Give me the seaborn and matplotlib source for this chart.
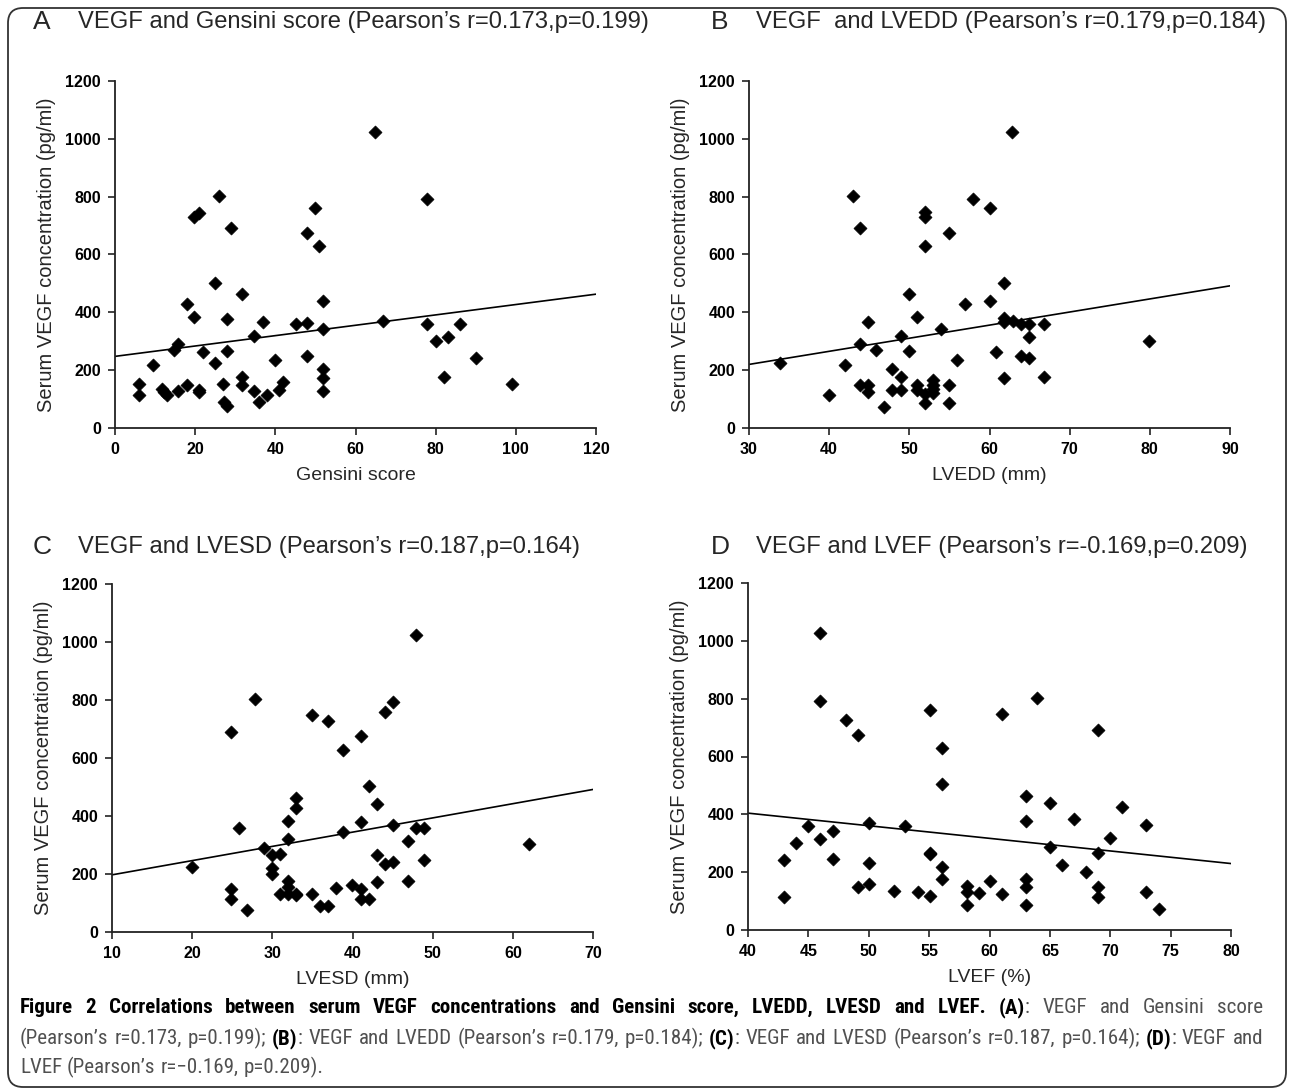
import numpy as np
import pandas as pd
import seaborn as sns
import matplotlib
matplotlib.use("Agg")
import matplotlib.pyplot as plt
from matplotlib import font_manager as fm
from matplotlib.patches import FancyBboxPatch

# ---------------- data ----------------
gensini = [6, 6, 9.6, 11.7, 12.3, 12.9, 15.8, 14.8, 15.8, 17.9, 17.9, 19.8, 19.8, 21, 21, 21,
           21.9, 25, 25, 26, 26.9, 27.1, 27.9, 27.9, 27.9, 28.9, 31.8, 31.8, 31.8, 34.8, 34.8,
           35.9, 36.9, 37.9, 39.8, 40.8, 41.9, 45.2, 47.9, 47.9, 47.9, 50, 50.9, 51.9, 51.9,
           51.9, 51.9, 51.9, 64.8, 66.9, 77.9, 77.9, 80, 83, 86, 82, 90, 99]
vegf_a = [151, 115, 219, 136, 123, 115, 129, 271, 290, 150, 429, 384, 728, 745, 130, 124,
          264, 225, 503, 803, 151, 90, 75, 378, 265, 691, 464, 176, 149, 129, 319,
          89, 365, 115, 234, 130, 159, 359, 363, 676, 248, 760, 628, 440, 343,
          204, 172, 129, 1025, 369, 793, 359, 302, 313, 359, 175, 242, 152]

lvedd = [33.9, 40, 42, 43, 43.9, 43.9, 43.9, 44.9, 44.9, 44.9, 45.9, 46.9, 47.9, 47.9,
         49, 49, 49, 50, 50, 51, 51, 51, 52, 52, 52, 52, 52, 53, 53, 53, 53, 54,
         54.9, 54.9, 54.9, 55.9, 57, 58, 60, 60, 60.8, 61.8, 61.8, 61.8, 61.8, 62.8,
         62.9, 63.9, 63.9, 64.9, 64.9, 64.9, 66.8, 66.8, 79.9]
vegf_b = [225, 115, 219, 803, 691, 150, 290, 365, 150, 124, 271, 73, 204, 130,
          175, 130, 319, 464, 265, 384, 150, 130, 746, 728, 628, 119, 86, 165, 150, 135, 120, 343,
          150, 86, 676, 234, 429, 793, 760, 440, 264, 503, 380, 365, 173, 1025,
          369, 359, 248, 359, 313, 242, 359, 175, 302]

lvesd = [20, 24.9, 24.9, 24.9, 25.9, 26.9, 27.9, 29, 29.9, 30, 30, 31, 31, 32, 32, 32, 32, 32,
         33, 33, 33, 33, 35, 35, 35.9, 36.9, 36.9, 37.9, 38.8, 38.8, 39.9, 41, 41, 41, 41,
         42, 42, 43, 43, 43, 44, 44, 45, 45, 45, 46.9, 46.9, 47.9, 47.9, 48.9, 48.9, 62]
vegf_c = [225, 691, 147, 115, 360, 75, 803, 290, 267, 221, 201, 270, 132, 384, 319, 175, 155, 132,
          463, 429, 132, 127, 747, 132, 89, 728, 89, 152, 628, 346, 161, 676, 380, 150, 115,
          503, 115, 440, 265, 173, 760, 234, 792, 369, 242, 313, 175, 1025, 360, 360, 248, 302]

lvef = [43, 43, 44, 45, 46, 46, 46, 47, 47, 48.1, 49.1, 49.1, 50, 50, 50, 52.1, 53, 54.1,
        55.1, 55.1, 55.1, 55.1, 56.1, 56.1, 56.1, 56.1, 58.1, 58.1, 58.1, 59.1, 60, 61, 61,
        63, 63, 63, 63, 63, 63.9, 65, 65, 66, 67, 68, 69, 69, 69, 69, 70, 71, 73, 73, 74]
vegf_d = [242, 115, 300, 360, 1027, 793, 314, 343, 247, 727, 675, 150, 369, 233, 159, 136, 360, 131,
          761, 268, 263, 118, 629, 504, 219, 175, 152, 133, 87, 129, 171, 125, 747,
          462, 378, 175, 150, 87, 802, 438, 288, 224, 383, 202, 692, 265, 148, 115, 317, 427, 363, 131, 72]

letters = ["A", "B", "C", "D"]
titles = ["VEGF and Gensini score (Pearson\u2019s r=0.173,p=0.199)",
          "VEGF  and LVEDD (Pearson\u2019s r=0.179,p=0.184)",
          "VEGF and LVESD (Pearson\u2019s r=0.187,p=0.164)",
          "VEGF and LVEF (Pearson\u2019s r=-0.169,p=0.209)"]
xlabels = ["Gensini score", "LVEDD (mm)", "LVESD (mm)", "LVEF (%)"]
ylabel = "Serum VEGF concentration (pg/ml)"
xlims = [(0, 120), (30, 90), (10, 70), (40, 80)]
xsteps = [20, 10, 10, 5]
ylim = (0, 1200)
yticks = [0, 200, 400, 600, 800, 1000, 1200]

caption_lines = [
    [("Figure 2 Correlations between serum VEGF concentrations and Gensini score, LVEDD, LVESD and LVEF. (A)", True),
     (": VEGF and Gensini score", False)],
    [("(Pearson\u2019s r=0.173, p=0.199); ", False), ("(B)", True),
     (": VEGF and LVEDD (Pearson\u2019s r=0.179, p=0.184); ", False), ("(C)", True),
     (": VEGF and LVESD (Pearson\u2019s r=0.187, p=0.164); ", False), ("(D)", True),
     (": VEGF and", False)],
    [("LVEF (Pearson\u2019s r=\u22120.169, p=0.209).", False)],
]

panels = [(gensini, vegf_a), (lvedd, vegf_b), (lvesd, vegf_c), (lvef, vegf_d)]

# ---------------- style ----------------
sns.set_style("ticks")
BASE = ["Liberation Sans", "DejaVu Sans"]
plt.rcParams["font.family"] = BASE
avail = {f.name for f in fm.fontManager.ttflist}
cap_font = "Liberation Sans"
for cand in ["Liberation Sans Narrow", "Roboto Condensed", "DejaVu Sans Condensed",
             "Open Sans Condensed"]:
    if cand in avail:
        cap_font = cand
        break
CAP = [cap_font, "DejaVu Sans"]

W, H = 1290, 1092
fig = plt.figure(figsize=(W / 100, H / 100), dpi=100)

# axes rectangles in pixels: (left, top, right, bottom)
rects = [(115, 81, 596, 428), (749, 81, 1230, 428),
         (112, 584, 593, 932), (748, 583, 1231, 930)]
title_pos = [(33, 22), (711, 22), (33, 547), (711, 547)]

for i, ((xv, yv), (l, t, r, b)) in enumerate(zip(panels, rects)):
    ax = fig.add_axes([l / W, 1 - b / H, (r - l) / W, (b - t) / H])
    df = pd.DataFrame({"x": xv, "y": yv})
    ax.set_xlim(*xlims[i])
    ax.set_ylim(*ylim)
    sns.regplot(data=df, x="x", y="y", ax=ax, ci=None, truncate=False, marker="D",
                scatter_kws=dict(s=44, color="black", edgecolor="black", linewidths=0.5,
                                 alpha=1),
                line_kws=dict(color="black", lw=1.2))
    ax.set_xlim(*xlims[i])
    ax.set_ylim(*ylim)
    xt = np.arange(xlims[i][0], xlims[i][1] + 0.1, xsteps[i])
    ax.set_xticks(xt, labels=[str(int(v)) for v in xt], fontweight="bold",
                  family=BASE, fontsize=11.5)
    ax.set_yticks(yticks, labels=[str(v) for v in yticks], fontweight="bold",
                  family=BASE, fontsize=11.5)
    sns.despine(ax=ax)
    for s in ("left", "bottom"):
        ax.spines[s].set_linewidth(1.3)
        ax.spines[s].set_color("#222222")
    ax.tick_params(direction="out", length=5, width=1.2, colors="#222222",
                   pad=5, labelcolor="black")
    ax.set_xlabel(xlabels[i], fontsize=14, labelpad=7, family=BASE)
    ax.set_ylabel(ylabel, fontsize=14.5, labelpad=7, family=BASE)
    tx, ty = title_pos[i]
    fig.text(tx / W, 1 - ty / H, letters[i], fontsize=19, va="center", ha="left")
    fig.text((tx + 45) / W, 1 - ty / H, titles[i], fontsize=17.1, va="center", ha="left")

# ---------------- caption (justified) ----------------
cax = fig.add_axes([0, 0, 1, 1])
cax.set_axis_off()
cax.set_xlim(0, W)
cax.set_ylim(H, 0)
fig.canvas.draw()
renderer = fig.canvas.get_renderer()


def seg_kw(bold, size):
    return dict(fontsize=size, family=CAP, fontweight="bold" if bold else "normal",
                color="black" if bold else "#505050")


def measure(txt, bold, size):
    t = cax.text(0, 500, txt, **seg_kw(bold, size))
    w = t.get_window_extent(renderer).width
    t.remove()
    return w


def words_of(parts):
    words = [[]]
    for txt, bold in parts:
        for j, p in enumerate(txt.split(" ")):
            if j > 0:
                words.append([])
            if p:
                words[-1].append((p, bold))
    return [w for w in words if w]


LEFT, RIGHT = 20, 1263
base_size = 14.0
w_line2 = sum(measure(s, b, base_size) for wd in words_of(caption_lines[1]) for s, b in wd)
n2 = len(words_of(caption_lines[1]))
space0 = measure("x x", False, base_size) - measure("xx", False, base_size)
natural = w_line2 + (n2 - 1) * space0
size = base_size * (RIGHT - LEFT - 12) / natural
space = measure("x x", False, size) - measure("xx", False, size)

baselines = [1013, 1044, 1073]
for li, (y, parts) in enumerate(zip(baselines, caption_lines)):
    words = words_of(parts)
    widths = [[measure(s, b, size) for s, b in wd] for wd in words]
    total = sum(sum(w) for w in widths)
    if li < len(caption_lines) - 1 and len(words) > 1:
        gap = (RIGHT - LEFT - total) / (len(words) - 1)
    else:
        gap = space
    x = LEFT
    for wd, ws in zip(words, widths):
        for (s, b), w in zip(wd, ws):
            cax.text(x, y, s, ha="left", va="baseline", **seg_kw(b, size))
            x += w
        x += gap

border = FancyBboxPatch((0.08, 0.05), 12.78, 10.79, transform=fig.dpi_scale_trans,
                        boxstyle="round,pad=0,rounding_size=0.15", fill=False,
                        edgecolor="#333333", lw=1.3)
fig.add_artist(border)

fig.savefig("out.png", dpi=100)
